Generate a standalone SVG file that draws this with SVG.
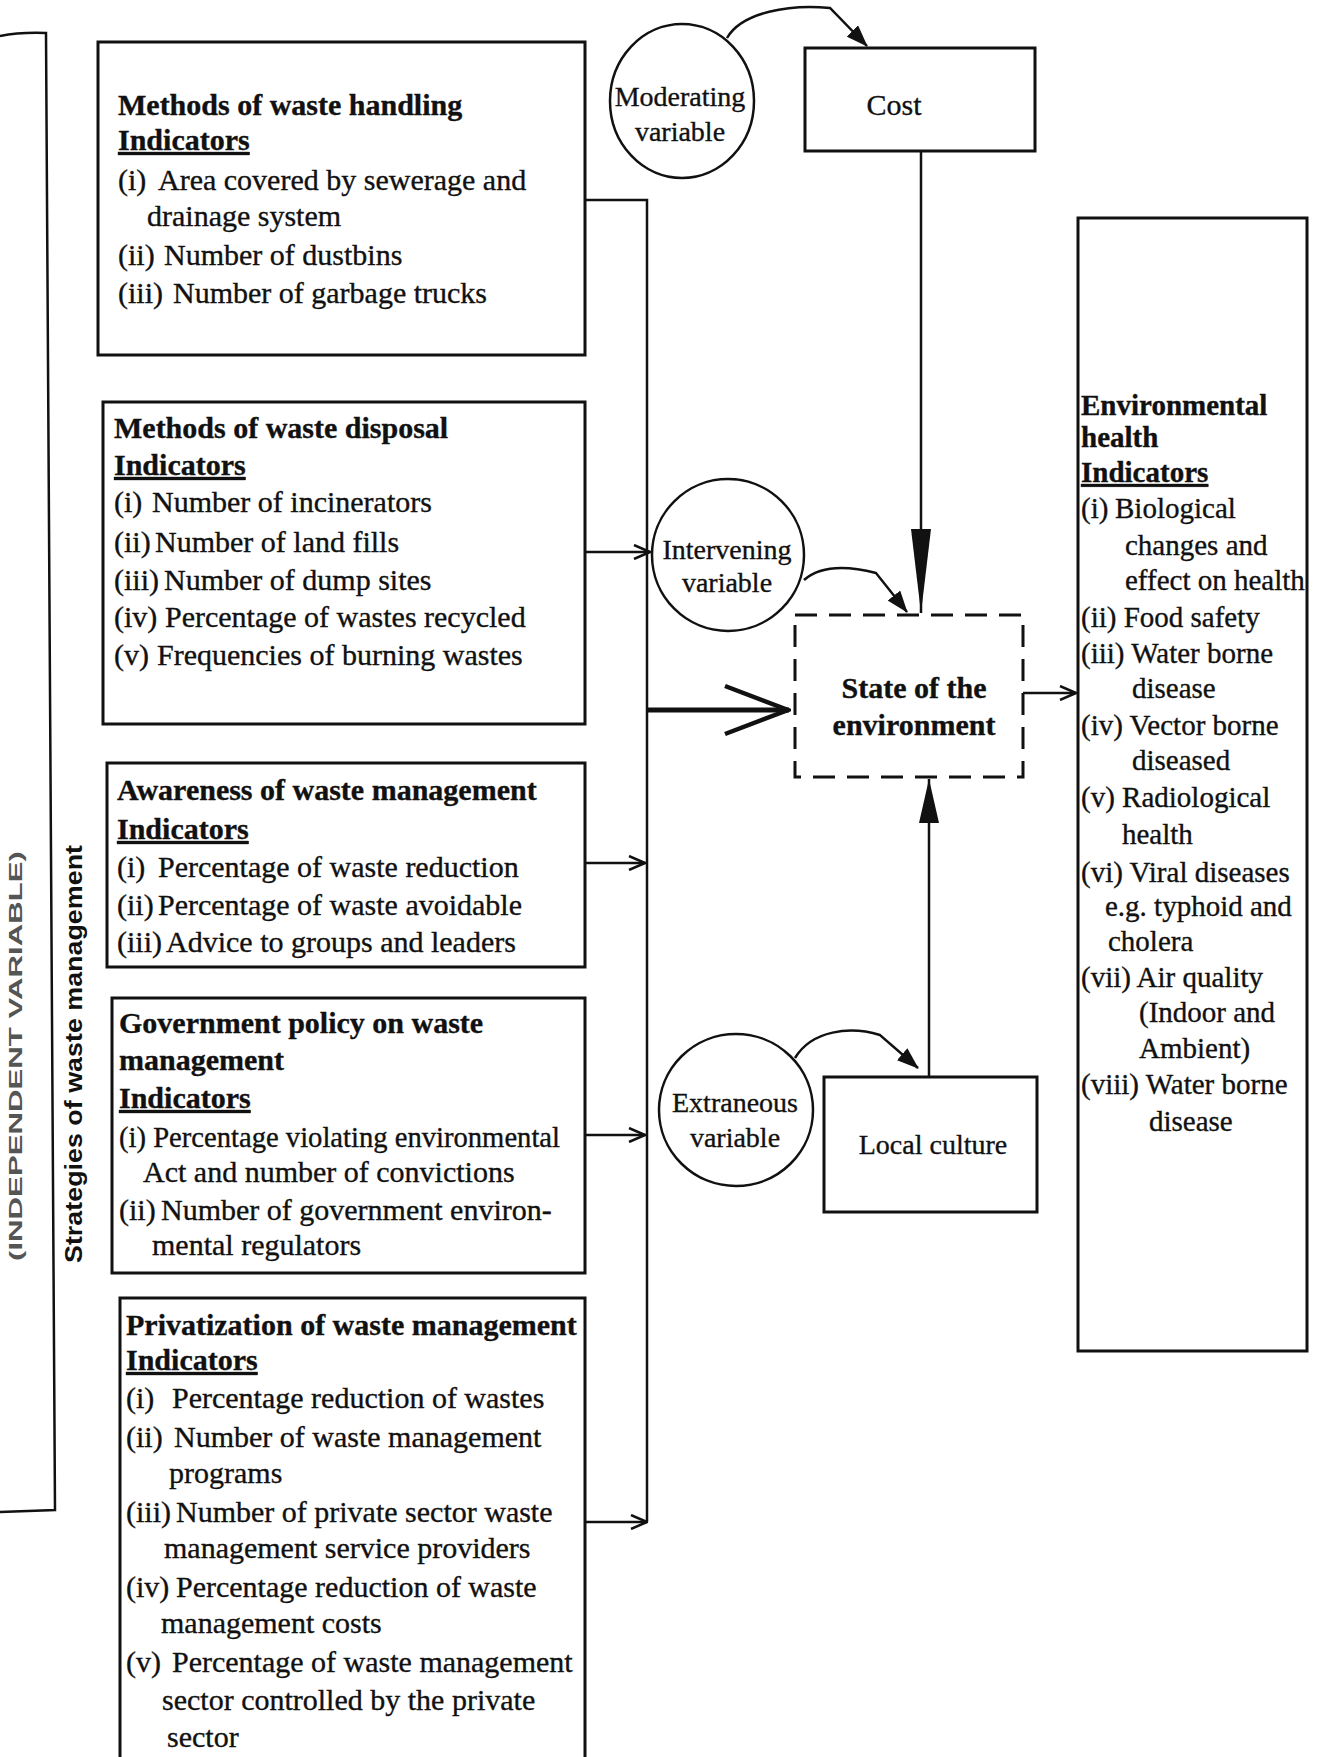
<svg xmlns="http://www.w3.org/2000/svg" width="1320" height="1757" viewBox="0 0 1320 1757">
<defs>
<style>
.bx{fill:none;stroke:#111;stroke-width:3}
.ln{fill:none;stroke:#111;stroke-width:2.5}
.t{font-family:"Liberation Serif","Times New Roman",serif;font-size:30px;fill:#111;stroke:#111;stroke-width:0.35}
.e{font-size:29px}
.b{font-weight:bold}
.u{text-decoration:underline}
.c{text-anchor:middle;font-size:28px}
.side{font-family:"Liberation Sans",Arial,sans-serif;font-weight:bold;text-anchor:middle}
</style>
<marker id="open" viewBox="0 0 18 16" refX="17" refY="8" markerWidth="18" markerHeight="16" markerUnits="userSpaceOnUse" orient="auto"><path d="M1,1 L17,8 L1,15" fill="none" stroke="#111" stroke-width="2.5"/></marker>
<marker id="openBig" viewBox="0 0 70 56" refX="68" refY="28" markerWidth="70" markerHeight="56" markerUnits="userSpaceOnUse" orient="auto"><path d="M4,4 L67,28 L4,52" fill="none" stroke="#111" stroke-width="4.5"/></marker>
<marker id="tri" viewBox="0 0 22 16" refX="21" refY="8" markerWidth="22" markerHeight="16" markerUnits="userSpaceOnUse" orient="auto"><path d="M0,0 L22,8 L0,16 z" fill="#111"/></marker>
<marker id="longTri" viewBox="0 0 84 20" refX="84" refY="10" markerWidth="84" markerHeight="20" markerUnits="userSpaceOnUse" orient="auto"><path d="M0,0 L84,10 L0,20 z" fill="#111"/></marker>
<marker id="midTri" viewBox="0 0 44 20" refX="44" refY="10" markerWidth="44" markerHeight="20" markerUnits="userSpaceOnUse" orient="auto"><path d="M0,0 L44,10 L0,20 z" fill="#111"/></marker>
</defs>
<rect width="1320" height="1757" fill="#fff"/>

<g id="side-bracket">
<path class="ln" d="M0,36 Q20,32 46,33 L55,1510 L0,1512"/>
<text class="side" transform="translate(22,1056) rotate(-90)" font-size="19" fill="#555" textLength="410" lengthAdjust="spacingAndGlyphs">(INDEPENDENT VARIABLE)</text>
<text class="side" transform="translate(82,1054) rotate(-90)" font-size="23" fill="#111" textLength="418" lengthAdjust="spacingAndGlyphs">Strategies of waste management</text>
</g>

<g id="node-handling">
<rect class="bx" x="98" y="42" width="487" height="313"/>
<text class="t b" x="118" y="115">Methods of waste handling</text>
<text class="t b u" x="118" y="150">Indicators</text>
<text class="t" y="190"><tspan x="118">(i)</tspan><tspan x="158">Area covered by sewerage and</tspan></text>
<text class="t" x="147" y="226">drainage system</text>
<text class="t" y="265"><tspan x="118">(ii)</tspan><tspan x="164">Number of dustbins</tspan></text>
<text class="t" y="303"><tspan x="118">(iii)</tspan><tspan x="173">Number of garbage trucks</tspan></text>
</g>

<g id="node-disposal">
<rect class="bx" x="103" y="402" width="482" height="322"/>
<text class="t b" x="114" y="438">Methods of waste disposal</text>
<text class="t b u" x="114" y="475">Indicators</text>
<text class="t" y="512"><tspan x="114">(i)</tspan><tspan x="152">Number of incinerators</tspan></text>
<text class="t" y="552"><tspan x="114">(ii)</tspan><tspan x="155">Number of land fills</tspan></text>
<text class="t" y="590"><tspan x="114">(iii)</tspan><tspan x="164">Number of dump sites</tspan></text>
<text class="t" y="627"><tspan x="114">(iv)</tspan><tspan x="165">Percentage of wastes recycled</tspan></text>
<text class="t" y="665"><tspan x="114">(v)</tspan><tspan x="157">Frequencies of burning wastes</tspan></text>
</g>

<g id="node-awareness">
<rect class="bx" x="107" y="763" width="478" height="204"/>
<text class="t b" x="117" y="800">Awareness of waste management</text>
<text class="t b u" x="117" y="839">Indicators</text>
<text class="t" y="877"><tspan x="117">(i)</tspan><tspan x="158">Percentage of waste reduction</tspan></text>
<text class="t" y="915"><tspan x="117">(ii)</tspan><tspan x="158">Percentage of waste avoidable</tspan></text>
<text class="t" y="952"><tspan x="117">(iii)</tspan><tspan x="166">Advice to groups and leaders</tspan></text>
</g>

<g id="node-government">
<rect class="bx" x="112" y="998" width="473" height="275"/>
<text class="t b" x="119" y="1033">Government policy on waste</text>
<text class="t b" x="119" y="1070">management</text>
<text class="t b u" x="119" y="1108">Indicators</text>
<text class="t" x="119" y="1147" textLength="441" lengthAdjust="spacingAndGlyphs">(i) Percentage violating environmental</text>
<text class="t" x="143" y="1182">Act and number of convictions</text>
<text class="t" y="1220"><tspan x="119">(ii)</tspan><tspan x="161">Number of government environ-</tspan></text>
<text class="t" x="152" y="1255">mental regulators</text>
</g>

<g id="node-privatization">
<rect class="bx" x="120" y="1298" width="465" height="480"/>
<text class="t b" x="126" y="1335">Privatization of waste management</text>
<text class="t b u" x="126" y="1370">Indicators</text>
<text class="t" y="1408"><tspan x="126">(i)</tspan><tspan x="172">Percentage reduction of wastes</tspan></text>
<text class="t" y="1447"><tspan x="126">(ii)</tspan><tspan x="174">Number of waste management</tspan></text>
<text class="t" x="169" y="1483">programs</text>
<text class="t" y="1522"><tspan x="126">(iii)</tspan><tspan x="176">Number of private sector waste</tspan></text>
<text class="t" x="164" y="1558">management service providers</text>
<text class="t" y="1597"><tspan x="126">(iv)</tspan><tspan x="176">Percentage reduction of waste</tspan></text>
<text class="t" x="161" y="1633">management costs</text>
<text class="t" y="1672"><tspan x="126">(v)</tspan><tspan x="172">Percentage of waste management</tspan></text>
<text class="t" x="162" y="1710">sector controlled by the private</text>
<text class="t" x="167" y="1747">sector</text>
</g>

<g id="node-moderating">
<ellipse class="ln" cx="682" cy="101" rx="72" ry="77"/>
<text class="t c" x="680" y="106">Moderating</text>
<text class="t c" x="680" y="141">variable</text>
</g>

<g id="node-cost">
<rect class="bx" x="805" y="48" width="230" height="103"/>
<text class="t" x="894" y="115" text-anchor="middle">Cost</text>
</g>

<g id="node-intervening">
<ellipse class="ln" cx="728" cy="555" rx="76" ry="76"/>
<text class="t c" x="727" y="559">Intervening</text>
<text class="t c" x="727" y="592">variable</text>
</g>

<g id="node-state">
<rect x="795" y="615" width="228" height="162" fill="none" stroke="#111" stroke-width="3" stroke-dasharray="22 12"/>
<text class="t b" x="914" y="698" text-anchor="middle">State of the</text>
<text class="t b" x="914" y="735" text-anchor="middle">environment</text>
</g>

<g id="node-extraneous">
<ellipse class="ln" cx="736" cy="1110" rx="77" ry="76"/>
<text class="t c" x="735" y="1112">Extraneous</text>
<text class="t c" x="735" y="1147">variable</text>
</g>

<g id="node-culture">
<rect class="bx" x="824" y="1077" width="213" height="135"/>
<text class="t c" x="933" y="1154">Local culture</text>
</g>

<g id="node-health">
<rect class="bx" x="1078" y="218" width="229" height="1133"/>
<text class="t e b" x="1081" y="415">Environmental</text>
<text class="t e b" x="1081" y="447">health</text>
<text class="t e b u" x="1081" y="482">Indicators</text>
<text class="t e" y="518"><tspan x="1081">(i)</tspan><tspan x="1115">Biological</tspan></text>
<text class="t e" x="1125" y="555">changes and</text>
<text class="t e" x="1125" y="590">effect on health</text>
<text class="t e" x="1081" y="627">(ii) Food safety</text>
<text class="t e" x="1081" y="663">(iii) Water borne</text>
<text class="t e" x="1132" y="698">disease</text>
<text class="t e" x="1081" y="735">(iv) Vector borne</text>
<text class="t e" x="1132" y="770">diseased</text>
<text class="t e" x="1081" y="807">(v) Radiological</text>
<text class="t e" x="1122" y="844">health</text>
<text class="t e" x="1081" y="882">(vi) Viral diseases</text>
<text class="t e" x="1105" y="916">e.g. typhoid and</text>
<text class="t e" x="1108" y="951">cholera</text>
<text class="t e" x="1081" y="987">(vii) Air quality</text>
<text class="t e" x="1139" y="1022">(Indoor and</text>
<text class="t e" x="1139" y="1058">Ambient)</text>
<text class="t e" x="1081" y="1094">(viii) Water borne</text>
<text class="t e" x="1149" y="1131">disease</text>
</g>

<g id="connectors">
<path class="ln" d="M585,200 H647 V1522"/>
<line class="ln" x1="585" y1="552" x2="650" y2="552" marker-end="url(#open)"/>
<line class="ln" x1="585" y1="863" x2="645" y2="863" marker-end="url(#open)"/>
<line class="ln" x1="585" y1="1135" x2="645" y2="1135" marker-end="url(#open)"/>
<line class="ln" x1="585" y1="1522" x2="647" y2="1522" marker-end="url(#open)"/>
<line x1="647" y1="710" x2="789" y2="710" stroke="#111" stroke-width="5" marker-end="url(#openBig)"/>
<line class="ln" x1="1023" y1="693" x2="1076" y2="693" marker-end="url(#open)"/>
<line class="ln" x1="921" y1="151" x2="921" y2="613" marker-end="url(#longTri)"/>
<line class="ln" x1="929" y1="1077" x2="929" y2="779" marker-end="url(#midTri)"/>
<path class="ln" d="M727,38 C742,12 790,4 830,8 L867,46" marker-end="url(#tri)"/>
<path class="ln" d="M804,580 C820,566 845,565 876,573 L907,612" marker-end="url(#tri)"/>
<path class="ln" d="M795,1058 C812,1030 850,1026 880,1035 L918,1068" marker-end="url(#tri)"/>
</g>
</svg>
